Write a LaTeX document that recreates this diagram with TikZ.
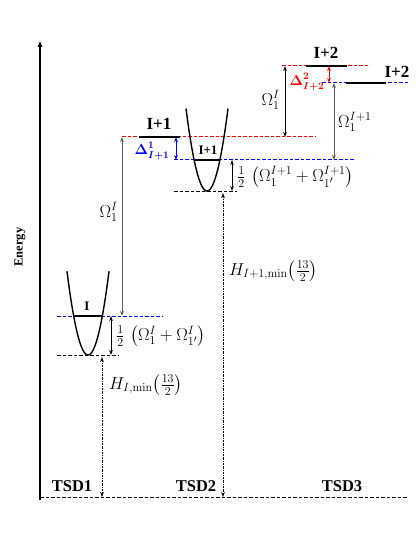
\documentclass[tikz,border=0pt]{standalone}
\usepackage[no-math]{fontspec}
\setmainfont{Liberation Serif}
\usepackage{amsmath,bm}
\usetikzlibrary{arrows.meta}
\definecolor{myred}{RGB}{255,0,0}
\definecolor{myblue}{RGB}{0,0,255}
\definecolor{mygray}{RGB}{90,90,90}
\tikzset{
  lvl/.style={dash pattern=on 3.5pt off 2pt, line width=1pt},
  state/.style={line width=1.2pt},
  well/.style={line width=1.4pt},
  dim/.style={{Stealth[length=5pt,width=3.6pt]}-{Stealth[length=5pt,width=3.6pt]}, line width=0.8pt},
  hdim/.style={{Stealth[length=5pt,width=3.6pt]}-{Stealth[length=5pt,width=3.6pt]}, line width=0.9pt, dash pattern=on 2pt off 1pt on 0.6pt off 1pt},
  big/.style={font=\fontsize{17}{19}\selectfont\bfseries, inner sep=0pt},
  tsd/.style={font=\fontsize{16.5}{19}\selectfont\bfseries, inner sep=0pt},
  small/.style={font=\fontsize{13}{15}\selectfont\bfseries, inner sep=0pt},
  mlab/.style={font=\fontsize{17.28}{20}\selectfont, inner sep=0pt},
  dlab/.style={font=\fontsize{14.4}{17}\selectfont, inner sep=0pt},
}
\begin{document}
\begin{tikzpicture}[x=1pt,y=-1pt]
\useasboundingbox (0,0) rectangle (415,540);
% axes
\coordinate (axB) at (40,500);
\coordinate (axT) at (40,40);
\draw[line width=1.7pt,-{Latex[length=7pt,width=5pt]}] (axB) -- (axT);
\coordinate (b0) at (40,497);
\coordinate (b1) at (407,497);
\draw[lvl] (b0) -- (b1);
\node[font=\fontsize{12.5}{14}\selectfont\bfseries, inner sep=0pt, rotate=90] (energy) at (20,247) {Energy};
% TSD1
\coordinate (g1a) at (57,355); \coordinate (g1b) at (118,355);
\draw[lvl] (g1a) -- (g1b);
\coordinate (e1a) at (57,316); \coordinate (e1b) at (163,316);
\draw[lvl, myblue] (e1a) -- (e1b);
\coordinate (s1a) at (74,316); \coordinate (s1b) at (102,316);
\draw[state] (s1a) -- (s1b);
\draw[well] plot[domain=-21:21, samples=60, smooth] ({88+\x},{355-0.19*\x*\x});
\node[small] (lI) at (87,306) {I};
% TSD2
\coordinate (r1a) at (122,137); \coordinate (r1b) at (315,137);
\draw[lvl, myred] (r1a) -- (r1b);
\coordinate (s2a) at (139,137); \coordinate (s2b) at (180,137);
\draw[state] (s2a) -- (s2b);
\node[big] (lI1) at (159,124) {I+1};
\coordinate (e2a) at (174,160); \coordinate (e2b) at (355,160);
\draw[lvl, myblue] (e2a) -- (e2b);
\coordinate (s3a) at (195,160); \coordinate (s3b) at (220,160);
\draw[state] (s3a) -- (s3b);
\node[small] (lI1s) at (208,150) {I+1};
\coordinate (g2a) at (174,191); \coordinate (g2b) at (237,191);
\draw[lvl] (g2a) -- (g2b);
\draw[well] plot[domain=-21:21, samples=60, smooth] ({207+\x},{191-0.187*\x*\x});
% TSD3
\coordinate (r2a) at (282,66); \coordinate (r2b) at (370,66);
\draw[lvl, myred] (r2a) -- (r2b);
\coordinate (s4a) at (306,66); \coordinate (s4b) at (347,66);
\draw[state] (s4a) -- (s4b);
\node[big] (lI2a) at (326,53) {I+2};
\coordinate (e3a) at (322,83); \coordinate (e3b) at (410,83);
\draw[lvl, myblue] (e3a) -- (e3b);
\coordinate (s5a) at (346,83); \coordinate (s5b) at (386,83);
\draw[state] (s5a) -- (s5b);
\node[big] (lI2b) at (397,72) {I+2};
% arrows
\coordinate (h1t) at (111,316); \coordinate (h1b) at (111,355);
\draw[dim] (h1t) -- (h1b);
\node[mlab, anchor=west] (half1) at (116,336) {$\frac{1}{2}\,\left(\Omega_1^{I}+\Omega_{1'}^{I}\right)$};
\coordinate (o1t) at (122,137); \coordinate (o1b) at (122,316);
\draw[dim, mygray] (o1t) -- (o1b);
\node[mlab, anchor=east] (om1) at (118,212) {$\Omega_1^{I}$};
\coordinate (H1t) at (102,357); \coordinate (H1b) at (102,497);
\draw[hdim] (H1t) -- (H1b);
\node[mlab, anchor=west] (Hl1) at (109,385) {$H_{I,\mathrm{min}}\!\left(\frac{13}{2}\right)$};
\coordinate (d1t) at (176,137); \coordinate (d1b) at (176,160);
\draw[dim, myblue] (d1t) -- (d1b);
\node[dlab, text=myblue] (del1) at (152,151) {$\bm{\Delta^{1}_{I+1}}$};
\coordinate (h2t) at (232,160); \coordinate (h2b) at (232,191);
\draw[dim] (h2t) -- (h2b);
\node[mlab, anchor=west] (half2) at (237,177) {$\frac{1}{2}\,\left(\Omega_1^{I+1}+\Omega_{1'}^{I+1}\right)$};
\coordinate (H2t) at (223,193); \coordinate (H2b) at (223,497);
\draw[hdim] (H2t) -- (H2b);
\node[mlab, anchor=west] (Hl2) at (229,271) {$H_{I+1,\mathrm{min}}\!\left(\frac{13}{2}\right)$};
\coordinate (o2t) at (285,66); \coordinate (o2b) at (285,137);
\draw[dim] (o2t) -- (o2b);
\node[mlab, anchor=east] (om2) at (280,100) {$\Omega_1^{I}$};
\coordinate (d2t) at (329,66); \coordinate (d2b) at (329,83);
\draw[dim, myred] (d2t) -- (d2b);
\node[dlab, text=myred] (del2) at (307,82) {$\bm{\Delta^{2}_{I+2}}$};
\coordinate (o3t) at (334,83); \coordinate (o3b) at (334,160);
\draw[dim, mygray] (o3t) -- (o3b);
\node[mlab, anchor=west] (om3) at (338,122) {$\Omega_1^{I+1}$};
% TSD labels
\node[tsd] (t1) at (72,486) {TSD1};
\node[tsd] (t2) at (196,486) {TSD2};
\node[tsd] (t3) at (342,486) {TSD3};
\end{tikzpicture}
\end{document}
